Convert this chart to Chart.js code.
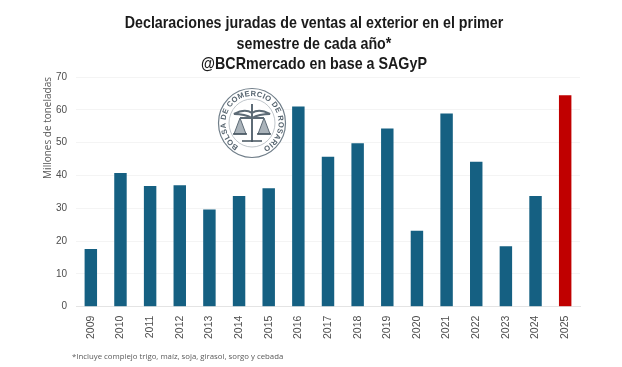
<!DOCTYPE html>
<html lang="es">
<head>
<meta charset="utf-8">
<title>Declaraciones juradas de ventas al exterior</title>
<script src="https://cdn.jsdelivr.net/npm/chart.js@4/dist/chart.umd.min.js"></script>
<style>
    html, body { margin: 0; padding: 0; background: #fff; overflow: hidden; }
    #wrap { position: relative; width: 622px; height: 367px; overflow: hidden; }
    #heading {
        position: absolute; left: 3px; top: 13px; width: 622px; text-align: center;
        font: bold 17px/20.5px "Liberation Sans", sans-serif; color: #1a1a1a;
        transform: scaleX(0.84); transform-origin: 311px 0;
    }
    #logo { position: absolute; left: 217px; top: 87px; width: 70px; height: 72px; }
    #note {
        position: absolute; left: 72px; top: 351px;
        font: 7.8px "Open Sans", sans-serif; color: #595959;
    }
</style>
</head>
<body>
<div id="wrap">
    <canvas id="chart" width="622" height="367"></canvas>
    <div id="heading"></div>
    <svg id="logo" viewBox="0 0 70 72">
        <defs><path id="ring" d="M 35 63 A 26.5 27 0 1 1 35.1 63"></path></defs>
        <ellipse cx="35" cy="36" rx="33.5" ry="34.5" fill="#fff" stroke="#6f7d88" stroke-width="1.2"></ellipse>
        <ellipse cx="35" cy="36" rx="23" ry="24" fill="none" stroke="#a5aeb5" stroke-width="0.7"></ellipse>
        <text font-family="Liberation Sans" font-size="7.6" font-weight="bold" fill="#56646f">
            <textPath href="#ring" startOffset="14" textLength="142">BOLSA DE COMERCIO DE ROSARIO</textPath>
        </text>
        <path d="M35 17V55M17 27Q28 21 35 26Q42 21 53 27Q42 27 35 31Q28 27 17 27ZM23 31H47" fill="none" stroke="#5d6b76" stroke-width="2"></path>
        <path d="M23 31L17 47H29ZM47 31L41 47H53Z" fill="#aab3ba" stroke="#5d6b76"></path>
        <path d="M16 47H30M40 47H54M25 54H45" stroke="#46545f" stroke-width="1.6"></path>
    </svg>
    <div id="note">*Incluye complejo trigo, maíz, soja, girasol, sorgo y cebada</div>
</div>
<script>
const years = ["2009", "2010", "2011", "2012", "2013", "2014", "2015", "2016", "2017",
    "2018", "2019", "2020", "2021", "2022", "2023", "2024", "2025"];
const tonnes = [17.6, 40.7, 36.8, 37.0, 29.6, 33.7, 36.1, 61.0, 45.7,
    49.8, 54.3, 23.1, 58.9, 44.2, 18.4, 33.7, 64.4];
const barColors = ["#156082", "#156082", "#156082", "#156082", "#156082", "#156082", "#156082", "#156082", "#156082",
    "#156082", "#156082", "#156082", "#156082", "#156082", "#156082", "#156082", "#C00000"];
const titleLines = [
    "Declaraciones juradas de ventas al exterior en el primer",
    "semestre de cada año*",
    "@BCRmercado en base a SAGyP"
];

document.getElementById("heading").innerHTML = titleLines.join("<br>");

new Chart(document.getElementById("chart"), {
    type: "bar",
    data: {
        labels: years,
        datasets: [{ data: tonnes, backgroundColor: barColors, barPercentage: 0.84, categoryPercentage: 0.5 }]
    },
    options: {
        responsive: false,
        animation: false,
        layout: { padding: { left: 42, right: 42, top: 77, bottom: 27 } },
        plugins: {
            legend: { display: false },
            tooltip: { enabled: false },
            title: { display: false }
        },
        scales: {
            x: {
                grid: { display: false },
                border: { color: "#e4e4e4" },
                ticks: {
                    color: "#4d4d4d",
                    font: { family: "'Liberation Sans'", size: 10.5 },
                    maxRotation: 90, minRotation: 90, padding: 1
                }
            },
            y: {
                min: 0,
                max: 70,
                grid: { color: "#f4f4f4", drawTicks: false },
                border: { display: false },
                // fixed width so the plot starts where the reference does
                afterFit: (scale) => { scale.width = 34; },
                ticks: {
                    stepSize: 10,
                    color: "#4d4d4d",
                    font: { family: "'Liberation Sans'", size: 10 },
                    padding: 9
                },
                title: {
                    display: true,
                    text: "Millones de toneladas",
                    align: "end",
                    color: "#595959",
                    font: { family: "'Open Sans'", size: 10 },
                    padding: { top: 0, bottom: 2 }
                }
            }
        }
    }
});
</script>
</body>
</html>
